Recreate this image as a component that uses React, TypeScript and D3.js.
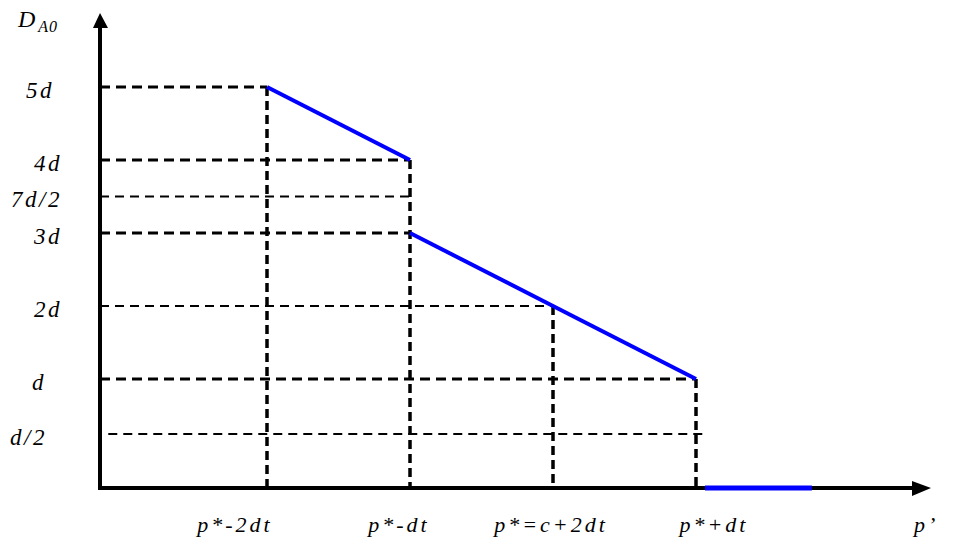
import React from "react";
import * as d3 from "d3";

// ---- data ----
const yLevels = [5, 4, 3.5, 3, 2, 1, 0.5];
const yLabels = ["5d", "4d", "7d/2", "3d", "2d", "d", "d/2"];
const xTicks = [-2, -1, 0, 1];
const xLabels = ["p*-2dt", "p*-dt", "p*=c+2dt", "p*+dt"];
// guide lines: level, extent along x (in x units), style
const guideEnds = [-2, -1, -1, -1, 0, 1, 1.08];
const guideStarts = [null, null, null, null, null, null, -3.11];
const guideThick = [true, true, false, true, false, true, false];
// vertical guides: x value up to level
const vTickX = [-2, -1, 0, 1];
const vTickTop = [5, 4, 2, 1];
// demand curve segments
const seg1X = [-2, -1];
const seg1Y = [5, 4];
const seg2X = [-1, 0, 1];
const seg2Y = [3, 2, 1];
const seg3X = [1.063, 1.81];
const seg3Y = [0, 0];

// ---- layout ----
const W = 956, H = 550;
const axisX = 100, axisY = 488;
const labelDx = [-8, 0, 0, 0, 0, -16, -15];
const xLabelDx = [-32, -11, -2, 18];

export default function App() {
  const x = d3.scaleLinear().domain([-2, 1]).range([267, 696]);
  const y = d3.scaleLinear().domain([0, 0.5, 1, 5]).range([488, 434, 379, 87]);
  const line = d3.line<[number, number]>().x(d => x(d[0])).y(d => y(d[1]));
  const seg = (xs: number[], ys: number[]) => line(xs.map((v, i) => [v, ys[i]] as [number, number])) || "";
  const font = "Liberation Serif, Times New Roman, DejaVu Serif, serif";
  return (
    <svg width={W} height={H} style={{ position: "absolute", left: 0, top: 0, background: "#fff" }}>
      {/* horizontal guides */}
      {yLevels.map((lv, i) => (
        <line key={"h" + i}
          x1={guideStarts[i] == null ? axisX : x(guideStarts[i] as number)}
          x2={x(guideEnds[i])}
          y1={y(lv)} y2={y(lv)}
          stroke="#000"
          strokeWidth={guideThick[i] ? 3 : 2}
          strokeDasharray={guideThick[i] ? "10 6" : "9 6"} />
      ))}
      {/* vertical guides */}
      {vTickX.map((v, i) => (
        <line key={"v" + i} x1={x(v)} x2={x(v)} y1={y(vTickTop[i])} y2={axisY}
          stroke="#000" strokeWidth={3.5} strokeDasharray="9 5" />
      ))}
      {/* axes */}
      <line x1={axisX} x2={axisX} y1={axisY + 2} y2={26} stroke="#000" strokeWidth={4} />
      <path d={`M${axisX - 7},${28} L${axisX},${13} L${axisX + 8},${28} Z`} fill="#000" />
      <line x1={axisX - 2} x2={914} y1={axisY} y2={axisY} stroke="#000" strokeWidth={4} />
      <path d={`M${912},${481} L${931},${488} L${912},${496} Z`} fill="#000" />
      {/* demand curve */}
      <path d={seg(seg1X, seg1Y)} stroke="#0000ff" strokeWidth={4} fill="none" />
      <path d={seg(seg2X, seg2Y)} stroke="#0000ff" strokeWidth={4} fill="none" />
      <path d={seg(seg3X, seg3Y)} stroke="#0000ff" strokeWidth={5} fill="none" />
      {/* y labels */}
      {yLabels.map((t, i) => (
        <text key={"yl" + i} x={62 + labelDx[i]} y={y(yLevels[i]) + 3}
          textAnchor="end" dominantBaseline="central"
          fontFamily={font} fontStyle="italic" fontSize={23} letterSpacing={2.5} fill="#000">{t}</text>
      ))}
      <text x={18} y={27} fontFamily={font} fontStyle="italic" fontSize={24} fill="#000">
        D<tspan fontSize={16} dx={3} dy={5} letterSpacing={1}>A0</tspan>
      </text>
      {/* x labels */}
      {xLabels.map((t, i) => (
        <text key={"xl" + i} x={x(xTicks[i]) + xLabelDx[i]} y={532}
          textAnchor="middle" fontFamily={font} fontStyle="italic" fontSize={22}
          letterSpacing={3} fill="#000">{t}</text>
      ))}
      <text x={914} y={532} fontFamily={font} fontStyle="italic" fontSize={22} letterSpacing={3} fill="#000">p’</text>
    </svg>
  );
}
